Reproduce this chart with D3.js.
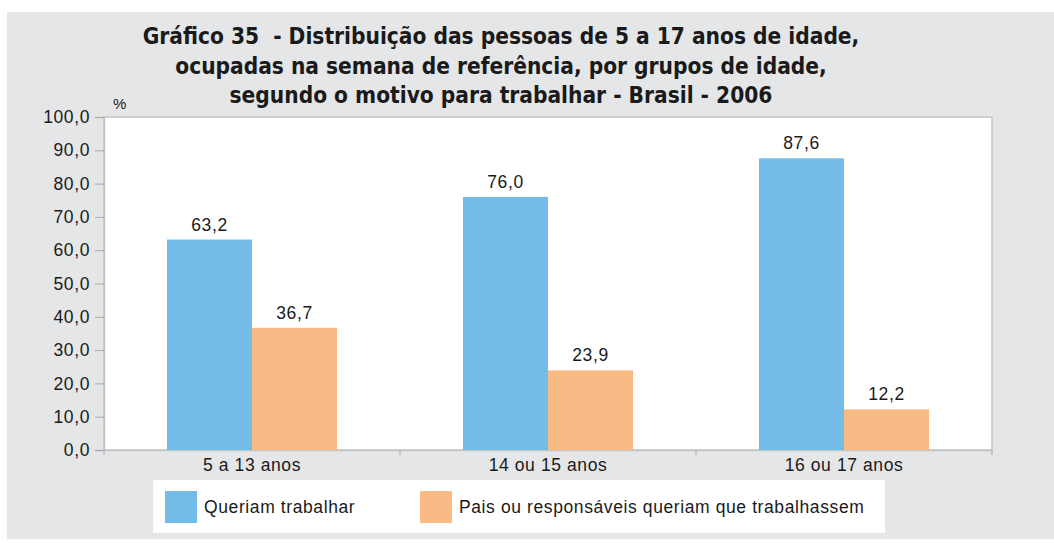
<!DOCTYPE html>
<html>
<head>
<meta charset="utf-8">
<script src="https://cdn.jsdelivr.net/npm/d3@7"></script>
<style>
  html, body { margin: 0; padding: 0; background: #fff; }
  svg { display: block; }
  .title { white-space: pre; }
</style>
</head>
<body>
<svg id="chart" width="1054" height="543"></svg>
<script>
// Age groups and the two reasons for working (percent)
const categories = ["5 a 13 anos", "14 ou 15 anos", "16 ou 17 anos"];
const seriesNames = ["Queriam trabalhar", "Pais ou responsáveis queriam que trabalhassem"];
const queriamTrabalhar = [63.2, 76.0, 87.6];
const paisQueriam = [36.7, 23.9, 12.2];
const yTicks = [0, 10, 20, 30, 40, 50, 60, 70, 80, 90, 100];
const titleLines = [
  "Gráfico 35  - Distribuição das pessoas de 5 a 17 anos de idade,",
  "ocupadas na semana de referência, por grupos de idade,",
  "segundo o motivo para trabalhar - Brasil - 2006"
];
const colors = ["#74bce8", "#f9bb85"];

const svg = d3.select("#chart");
const W = 1054, H = 543;
const plot = { left: 104, right: 992, top: 117, bottom: 450 };
const labelFont = "'Liberation Sans', Arial, sans-serif";
const labelSize = 17.5;
const labelSpacing = 0.6;

// panel background
svg.append("rect").attr("x", 7).attr("y", 12).attr("width", W - 7).attr("height", H - 12 - 4)
  .attr("fill", "#e5e6e8");

// title
svg.append("g").selectAll("text").data(titleLines).join("text")
  .attr("class", "title")
  .attr("x", 501).attr("y", (d, i) => 44 + i * 29.5)
  .attr("text-anchor", "middle")
  .attr("font-family", "'Liberation Sans Narrow', 'DejaVu Sans Condensed', sans-serif")
  .attr("font-weight", "bold").attr("font-size", 22.5).attr("fill", "#1a1a1a")
  .text(d => d);

// plot area
svg.append("rect").attr("x", plot.left).attr("y", plot.top)
  .attr("width", plot.right - plot.left).attr("height", plot.bottom - plot.top)
  .attr("fill", "#fff").attr("stroke", "#c4c4c6").attr("stroke-width", 1.5);

const x0 = d3.scaleBand().domain(categories).range([plot.left, plot.right]).paddingInner(0).paddingOuter(0);
const x1 = d3.scaleBand().domain([0, 1]).range([63, x0.bandwidth() - 63]);
const y = d3.scaleLinear().domain([0, 100]).range([plot.bottom, plot.top]);

function styleText(sel) {
  sel.attr("font-family", labelFont).attr("font-size", labelSize)
    .attr("letter-spacing", labelSpacing).attr("fill", "#1a1a1a");
}

// y axis
const yAxis = d3.axisLeft(y).tickValues(yTicks).tickSize(9).tickPadding(5)
  .tickFormat(d => d3.format(".1f")(d).replace(".", ","));
const gy = svg.append("g").attr("transform", `translate(${plot.left},0)`).call(yAxis);
gy.select(".domain").attr("stroke", "#c4c4c6").attr("stroke-width", 1.5);
gy.selectAll(".tick line").attr("stroke", "#a9a9ab");
gy.selectAll("text").call(styleText);

// x axis
const xAxis = d3.axisBottom(x0).tickSize(0).tickPadding(9);
const gx = svg.append("g").attr("transform", `translate(0,${plot.bottom})`).call(xAxis);
gx.select(".domain").attr("stroke", "#c4c4c6").attr("stroke-width", 1.5);
gx.selectAll("text").call(styleText);
// category separators
const sepX = categories.map(c => x0(c)).concat([plot.right]);
svg.append("g").selectAll("line").data(sepX).join("line")
  .attr("x1", d => d).attr("x2", d => d).attr("y1", plot.bottom).attr("y2", plot.bottom + 5)
  .attr("stroke", "#a9a9ab");

// "%" unit
svg.append("text").attr("x", 113).attr("y", 109).attr("font-family", labelFont)
  .attr("font-size", 15).attr("fill", "#1a1a1a").text("%");

// bars
const rows = categories.map((c, i) => ({ cat: c, vals: [queriamTrabalhar[i], paisQueriam[i]] }));
const groups = svg.append("g").selectAll("g").data(rows).join("g")
  .attr("transform", d => `translate(${x0(d.cat)},0)`);
groups.selectAll("rect").data(d => d.vals.map((v, k) => ({ v, k }))).join("rect")
  .attr("x", d => x1(d.k)).attr("width", x1.bandwidth())
  .attr("y", d => y(d.v)).attr("height", d => y(0) - y(d.v))
  .attr("fill", d => colors[d.k]);
groups.selectAll("text").data(d => d.vals.map((v, k) => ({ v, k }))).join("text")
  .attr("x", d => x1(d.k) + x1.bandwidth() / 2).attr("y", d => y(d.v) - 9)
  .attr("text-anchor", "middle").call(styleText)
  .text(d => d3.format(".1f")(d.v).replace(".", ","));

// legend
const lg = svg.append("g");
lg.append("rect").attr("x", 153).attr("y", 480).attr("width", 732).attr("height", 53).attr("fill", "#fff");
const legendX = [165, 420];
seriesNames.forEach((name, k) => {
  lg.append("rect").attr("x", legendX[k]).attr("y", 491).attr("width", 32).attr("height", 32).attr("fill", colors[k]);
  lg.append("text").attr("x", legendX[k] + 39).attr("y", 513).call(styleText).text(name);
});
</script>
</body>
</html>
